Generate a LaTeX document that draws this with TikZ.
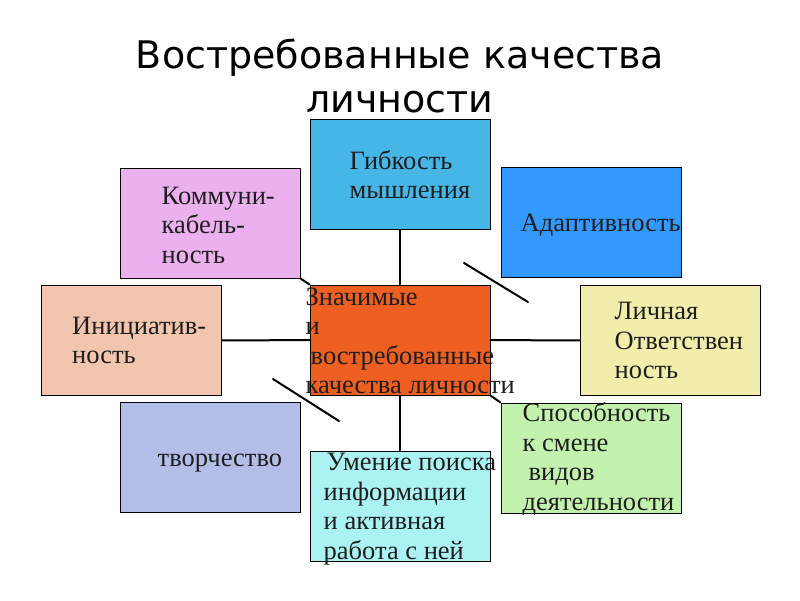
\documentclass[tikz,border=0pt]{standalone}
\usepackage{fontspec}
\setmainfont{Liberation Serif}
\newfontfamily\titlefont{DejaVu Sans}
\usetikzlibrary{positioning}

\definecolor{flexblue}{RGB}{69,182,230}
\definecolor{commpink}{RGB}{235,176,238}
\definecolor{adaptblue}{RGB}{51,153,255}
\definecolor{coreorange}{RGB}{240,95,34}
\definecolor{initpeach}{RGB}{242,197,174}
\definecolor{respyellow}{RGB}{240,238,170}
\definecolor{creatlilac}{RGB}{179,190,232}
\definecolor{infocyan}{RGB}{171,243,243}
\definecolor{changegreen}{RGB}{195,242,174}
\definecolor{inkgray}{RGB}{30,30,30}

\begin{document}
\begin{tikzpicture}[x=1pt,y=-1pt,
    qbox/.style={draw,line width=1pt,minimum width=180pt,minimum height=110pt,inner sep=0pt},
    qtext/.style={font=\fontsize{26.5}{29.5}\selectfont,text=inkgray,align=left,anchor=west,inner sep=0pt},
    head/.style={font=\titlefont\fontsize{38}{44}\selectfont,align=center,inner sep=0pt},
    link/.style={line width=2pt,line cap=round}]

    \useasboundingbox[fill=white] (0,0) rectangle (800,600);

    \node[head] (title) at (400,76) {Востребованные качества\\личности};

    \node[qbox,fill=flexblue]    (flex)   at (400,174.5) {};
    \node[qbox,fill=commpink]    (comm)   at (210,223) {};
    \node[qbox,fill=adaptblue]   (adapt)  at (591,222.5) {};
    \node[qbox,fill=coreorange]  (core)   at (400,340) {};
    \node[qbox,fill=initpeach]   (init)   at (131.5,340.5) {};
    \node[qbox,fill=respyellow]  (resp)   at (670,340.5) {};
    \node[qbox,fill=creatlilac]  (creat)  at (210,457.5) {};
    \node[qbox,fill=infocyan]    (info)   at (400,506) {};
    \node[qbox,fill=changegreen] (change) at (591,458) {};

    \coordinate (adrift1) at (464,263);
    \coordinate (adrift2) at (528,302);
    \coordinate (crdrift1) at (273,379);
    \coordinate (crdrift2) at (339,421);

    \path[link]
     (flex) edge (core)
     (core) edge (info)
     (init) edge (core)
     (core) edge (resp)
     (comm.south east) edge (core.north west)
     (core.south east) edge (change.north west)
     (adrift1) edge (adrift2)
     (crdrift1) edge (crdrift2);

    \node[qtext] (flex-t)   at ([xshift=40pt]flex.west)   {Гибкость\\мышления};
    \node[qtext] (comm-t)   at ([xshift=42pt,yshift=-2pt]comm.west) {Коммуни-\\кабель-\\ность};
    \node[qtext] (adapt-t)  at ([xshift=20pt,yshift=-3pt]adapt.west) {Адаптивность};
    \node[qtext] (core-t)   at ([xshift=-4pt,yshift=-1pt]core.west) {Значимые\\и\\\hspace*{5pt}востребованные\\качества личности};
    \node[qtext] (init-t)   at ([xshift=31pt]init.west)   {Инициатив-\\ность};
    \node[qtext] (resp-t)   at ([xshift=35pt]resp.west)   {Личная\\Ответствен\\ность};
    \node[qtext] (creat-t)  at ([xshift=38pt,yshift=-6pt]creat.west) {творчество};
    \node[qtext] (info-t)   at ([xshift=14pt,yshift=-3pt]info.west) {\hspace*{3pt}Умение поиска\\информации\\и активная\\работа с ней};
    \node[qtext] (change-t) at ([xshift=22pt,yshift=-1pt]change.west) {Способность\\к смене\\\hspace*{6pt}видов\\деятельности};
\end{tikzpicture}
\end{document}
